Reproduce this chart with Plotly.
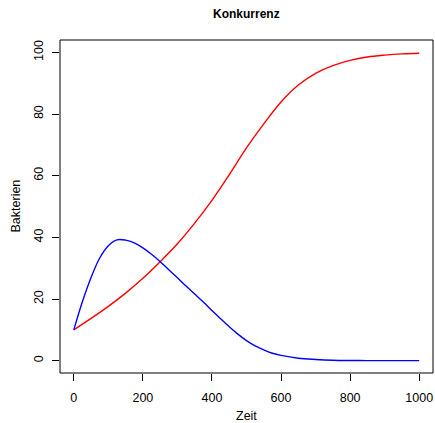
import plotly.graph_objects as go

zeit_blue = [0, 25, 50, 75, 100, 125, 150, 175, 200, 225, 250, 275, 300, 325, 350,
             375, 400, 425, 450, 475, 500, 525, 550, 575, 600, 650, 700, 750, 800,
             850, 900, 950, 1000]
blau = [10, 19.2, 27.0, 33.3, 37.3, 39.2, 39.1, 38.2, 36.6, 34.5, 32.1, 29.5, 26.9,
        24.2, 21.6, 19.0, 16.3, 13.6, 11.0, 8.6, 6.5, 4.8, 3.5, 2.4, 1.7, 0.8, 0.4,
        0.15, 0.06, 0.02, 0.01, 0.0, 0.0]

zeit_red = [0, 50, 100, 150, 200, 250, 300, 350, 400, 450, 500, 550, 600, 650, 700,
            750, 800, 850, 900, 950, 1000]
rot = [10, 13.7, 17.6, 21.9, 26.7, 32.1, 37.9, 44.6, 52.0, 60.3, 69.0, 76.8, 83.9,
       89.4, 93.2, 95.7, 97.4, 98.5, 99.1, 99.5, 99.7]

x_ticks = [0, 200, 400, 600, 800, 1000]
y_ticks = [0, 20, 40, 60, 80, 100]

font = "Liberation Sans, Arial, Helvetica, sans-serif"

fig = go.Figure()
fig.add_trace(go.Scatter(x=zeit_red, y=rot, mode="lines",
                         line=dict(color="#FF0000", width=1.4, shape="spline", smoothing=1.0),
                         hoverinfo="skip", showlegend=False))
fig.add_trace(go.Scatter(x=zeit_blue, y=blau, mode="lines",
                         line=dict(color="#0000FF", width=1.4, shape="spline", smoothing=1.0),
                         hoverinfo="skip", showlegend=False))

fig.update_layout(
    width=435, height=423,
    margin=dict(l=60, r=2, t=40, b=50, pad=0),
    paper_bgcolor="white", plot_bgcolor="white",
    font=dict(family=font, size=12, color="black"),
    showlegend=False,
    xaxis=dict(range=[-40, 1040], tickvals=x_ticks, ticks="outside", ticklen=7,
               tickcolor="black", tickwidth=1, showgrid=False, zeroline=False,
               showline=False, ticklabelstandoff=6, tickfont=dict(size=12.5)),
    yaxis=dict(range=[-4, 104], tickvals=y_ticks, ticks="outside", ticklen=7,
               tickcolor="black", tickwidth=1, showgrid=False, zeroline=False,
               showline=False, tickangle=-90, ticklabelstandoff=4, tickfont=dict(size=12.5)),
    shapes=[dict(type="rect", xref="paper", yref="paper", x0=0, x1=1, y0=0, y1=1,
                 line=dict(color="black", width=1), fillcolor="rgba(0,0,0,0)")],
    annotations=[
        dict(text="<b>Konkurrenz</b>", xref="paper", yref="paper", x=0.5, y=1,
             yshift=26, showarrow=False, font=dict(size=12), xanchor="center", yanchor="middle"),
        dict(text="Zeit", xref="paper", yref="paper", x=0.5, y=0, yshift=-43,
             showarrow=False, font=dict(size=12.5), xanchor="center", yanchor="middle"),
        dict(text="Bakterien", xref="paper", yref="paper", x=0, y=0.5, xshift=-45,
             showarrow=False, textangle=-90, font=dict(size=12.5), xanchor="center", yanchor="middle"),
    ],
)

fig.write_html("out.html")
